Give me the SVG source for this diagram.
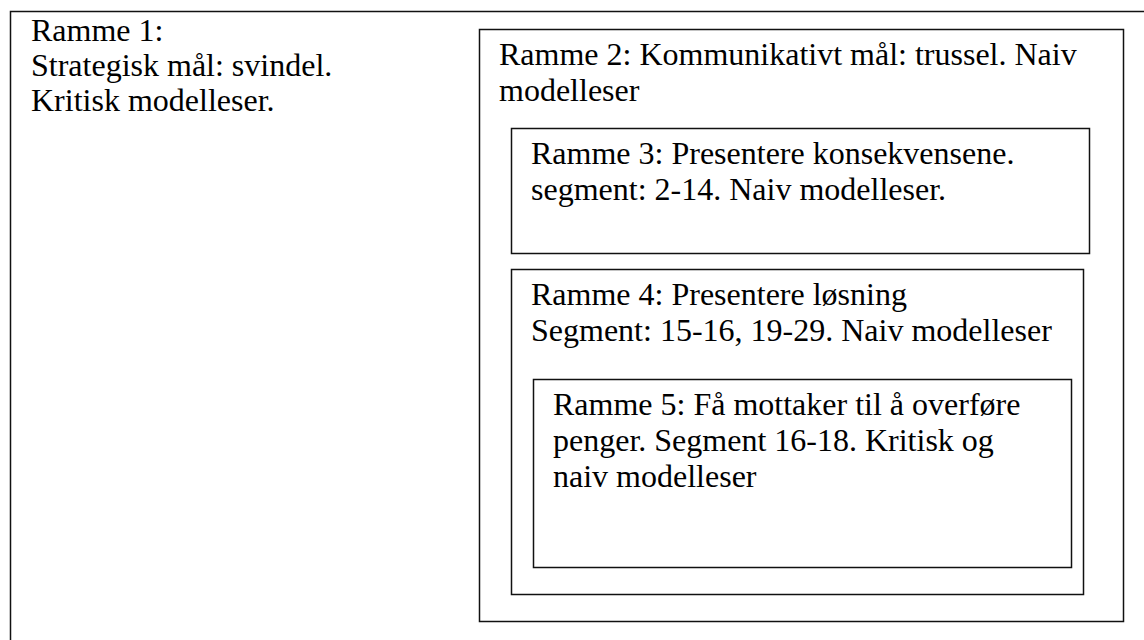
<svg xmlns="http://www.w3.org/2000/svg" width="1144" height="640" viewBox="0 0 1144 640">
<style>
.box{fill:none;stroke:#111;stroke-width:1.5}
.t{font-family:"Liberation Serif","Times New Roman",serif;font-size:32px;fill:#000}
</style>
<rect x="0" y="0" width="1144" height="640" fill="#fff"/>
<g id="ramme1">
<rect class="box" x="10.5" y="11.5" width="1200" height="700"/>
<text class="t"><tspan x="31" y="41">Ramme 1:</tspan><tspan x="31" y="76">Strategisk mål: svindel.</tspan><tspan x="31" y="111">Kritisk modelleser.</tspan></text>
</g>
<g id="ramme2">
<rect class="box" x="479.5" y="29.5" width="644" height="592"/>
<text class="t"><tspan x="499" y="65">Ramme 2: Kommunikativt mål: trussel. Naiv</tspan><tspan x="499" y="101">modelleser</tspan></text>
</g>
<g id="ramme3">
<rect class="box" x="511.5" y="128.5" width="578" height="125"/>
<text class="t"><tspan x="531" y="164">Ramme 3: Presentere konsekvensene.</tspan><tspan x="531" y="200">segment: 2-14. Naiv modelleser.</tspan></text>
</g>
<g id="ramme4">
<rect class="box" x="511.5" y="269.5" width="572" height="325"/>
<text class="t"><tspan x="531" y="305">Ramme 4: Presentere løsning</tspan><tspan x="531" y="341">Segment: 15-16, 19-29. Naiv modelleser</tspan></text>
</g>
<g id="ramme5">
<rect class="box" x="533.5" y="379.5" width="538" height="188"/>
<text class="t"><tspan x="553" y="415">Ramme 5: Få mottaker til å overføre</tspan><tspan x="553" y="451">penger. Segment 16-18. Kritisk og</tspan><tspan x="553" y="487">naiv modelleser</tspan></text>
</g>
</svg>
